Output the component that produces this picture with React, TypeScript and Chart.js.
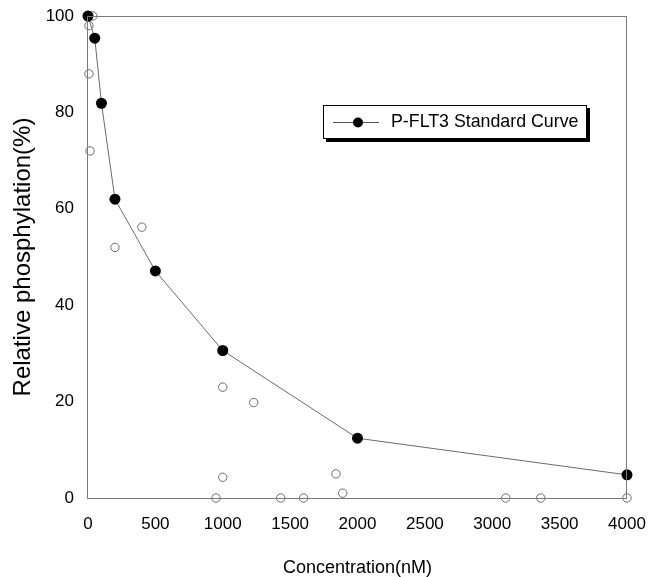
import React, { useEffect, useRef } from "react";
import { Chart, registerables } from "chart.js";

Chart.register(...registerables);

const standardX = [0, 50, 100, 200, 500, 1000, 2000, 4000];
const standardY = [100, 95.4, 81.9, 62, 47.1, 30.6, 12.4, 4.8];

const sampleX = [7, 35, 7, 15, 200, 400, 1000, 1000, 950, 1230, 1430, 1600, 1840, 1890, 3100, 3360, 4000];
const sampleY = [98, 100, 88, 72, 52, 56.2, 23, 4.3, 0, 19.8, 0, 0, 5, 1, 0, 0, 0];

const xTicks = [0, 500, 1000, 1500, 2000, 2500, 3000, 3500, 4000];
const yTicks = [0, 20, 40, 60, 80, 100];

const legendLabel = "P-FLT3 Standard Curve";
const xTitle = "Concentration(nM)";
const yTitle = "Relative phosphylation(%)";

const FONT = "'Liberation Sans', Arial, sans-serif";

const frameAndLegend = {
  id: "frameAndLegend",
  afterDatasetsDraw(chart: any) {
    const { ctx, chartArea } = chart;
    ctx.save();
    ctx.strokeStyle = "#7a7a7a";
    ctx.lineWidth = 1;
    ctx.strokeRect(
      Math.round(chartArea.left) - 0.5,
      Math.round(chartArea.top) + 0.5,
      Math.round(chartArea.right - chartArea.left),
      Math.round(chartArea.bottom - chartArea.top)
    );
    // legend box with drop shadow
    const bx = 323, by = 105, bw = 264, bh = 34;
    ctx.fillStyle = "#000";
    ctx.fillRect(bx + 3, by + 3, bw, bh);
    ctx.fillStyle = "#fff";
    ctx.fillRect(bx, by, bw, bh);
    ctx.strokeStyle = "#000";
    ctx.strokeRect(bx + 0.5, by + 0.5, bw - 1, bh - 1);
    const cy = by + 17.5;
    ctx.strokeStyle = "#555";
    ctx.beginPath();
    ctx.moveTo(333, cy);
    ctx.lineTo(379, cy);
    ctx.stroke();
    ctx.fillStyle = "#000";
    ctx.beginPath();
    ctx.arc(358, cy, 5, 0, Math.PI * 2);
    ctx.fill();
    ctx.font = `17.8px ${FONT}`;
    ctx.textBaseline = "middle";
    ctx.textAlign = "left";
    ctx.fillText(legendLabel, 391, cy);
    ctx.restore();
  },
};

export default function App() {
  const ref = useRef<HTMLCanvasElement | null>(null);

  useEffect(() => {
    if (!ref.current) return;
    const chart = new Chart(ref.current, {
      type: "scatter",
      data: {
        datasets: [
          {
            label: legendLabel,
            data: standardX.map((x, i) => ({ x, y: standardY[i] })),
            showLine: true,
            borderColor: "#6a6a6a",
            borderWidth: 1,
            pointRadius: 5.5,
            pointBackgroundColor: "#000",
            pointBorderColor: "#000",
            pointBorderWidth: 0,
            clip: false as any,
          },
          {
            label: "Samples",
            data: sampleX.map((x, i) => ({ x, y: sampleY[i] })),
            showLine: false,
            pointRadius: 4.2,
            pointBackgroundColor: "rgba(255,255,255,0)",
            pointBorderColor: "#6a6a6a",
            pointBorderWidth: 1,
            clip: false as any,
          },
        ],
      },
      options: {
        responsive: false,
        animation: false,
        devicePixelRatio: 1,
        layout: { padding: { top: 16, right: 21, left: 0, bottom: 0 } },
        plugins: {
          legend: { display: false },
          tooltip: { enabled: false },
        },
        scales: {
          x: {
            type: "linear",
            min: 0,
            max: 4000,
            afterFit: (s: any) => {
              s.height = 79;
              s.paddingLeft = 0;
              s.paddingRight = 0;
            },
            afterBuildTicks: (s: any) => {
              s.ticks = xTicks.map((v) => ({ value: v }));
            },
            grid: { display: false, drawTicks: false },
            border: { display: false },
            ticks: {
              padding: 16,
              color: "#000",
              font: { family: FONT, size: 17 },
              maxRotation: 0,
              autoSkip: false,
              callback: (v: any) => String(v),
            },
            title: {
              display: true,
              text: xTitle,
              color: "#000",
              font: { family: FONT, size: 18, lineHeight: 1 },
              padding: { top: 0, bottom: 0 },
            },
          },
          y: {
            type: "linear",
            min: 0,
            max: 100,
            afterFit: (s: any) => {
              s.width = 88;
              s.paddingTop = 0;
              s.paddingBottom = 0;
            },
            afterBuildTicks: (s: any) => {
              s.ticks = yTicks.map((v) => ({ value: v }));
            },
            grid: { display: false, drawTicks: false },
            border: { display: false },
            ticks: {
              padding: 14,
              color: "#000",
              font: { family: FONT, size: 17 },
              autoSkip: false,
              callback: (v: any) => String(v),
            },
            title: {
              display: true,
              text: yTitle,
              color: "#000",
              font: { family: FONT, size: 24, lineHeight: 1.2 },
              padding: { top: 8.6, bottom: 0 },
            },
          },
        },
      },
      plugins: [frameAndLegend],
    });
    return () => chart.destroy();
  }, []);

  return (
    <div style={{ position: "fixed", left: 0, top: 0, width: 648, height: 577, background: "#fff" }}>
      <canvas ref={ref} width={648} height={577} style={{ display: "block" }} />
    </div>
  );
}
